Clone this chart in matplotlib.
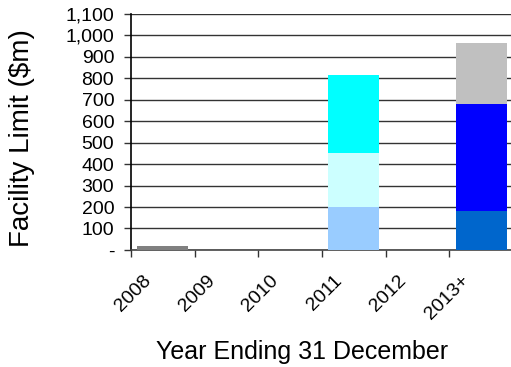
import numpy as np
import matplotlib.pyplot as plt
import matplotlib.transforms as mtransforms
from matplotlib.ticker import FuncFormatter

plt.rcParams['font.family'] = ['Liberation Sans', 'DejaVu Sans']

# data ($m)
years = ['2008', '2009', '2010', '2011', '2012', '2013+']
seg1 = [20, 0, 0, 200, 0, 180]
seg2 = [0, 0, 0, 250, 0, 500]
seg3 = [0, 0, 0, 365, 0, 285]
seg1_colors = ['#808080', '#808080', '#808080', '#99CCFF', '#808080', '#0066CC']
seg2_colors = ['#CCFFFF', '#CCFFFF', '#CCFFFF', '#CCFFFF', '#CCFFFF', '#0000FF']
seg3_colors = ['#00FFFF', '#00FFFF', '#00FFFF', '#00FFFF', '#00FFFF', '#C0C0C0']

fig = plt.figure(figsize=(5.11, 3.67), dpi=100)
ax = fig.add_axes([0.256, 0.319, 0.748, 0.643])

x = np.arange(len(years))
s1 = np.array(seg1)
s2 = np.array(seg2)
s3 = np.array(seg3)
ax.bar(x, s1, width=0.8, color=seg1_colors, zorder=3)
ax.bar(x, s2, width=0.8, bottom=s1, color=seg2_colors, zorder=3)
ax.bar(x, s3, width=0.8, bottom=s1 + s2, color=seg3_colors, zorder=3)

ax.set_xlim(-0.5, 5.5)
ax.set_ylim(0, 1100)
ax.set_yticks(np.arange(0, 1101, 100))
ax.yaxis.set_major_formatter(FuncFormatter(lambda v, p: '-' if v == 0 else f'{int(v):,}'))
ax.grid(axis='y', color='#333333', linewidth=1, zorder=0)

# ticks between categories, labels at centres
ax.set_xticks(np.arange(-0.5, 5.5, 1))
ax.set_xticklabels([])
ax.set_xticks(x, minor=True)
ax.set_xticklabels(years, minor=True, rotation=45, ha='right', va='top', fontsize=14)
ax.tick_params(axis='x', which='minor', length=0, pad=16)
ax.tick_params(axis='x', which='major', length=5, width=1, color='#333333')
ax.tick_params(axis='y', length=5, width=1, labelsize=14, color='#333333', pad=7)
shift = mtransforms.ScaledTranslation(-6 / 72, 0, fig.dpi_scale_trans)
for lab in ax.get_xticklabels(minor=True):
    lab.set_transform(lab.get_transform() + shift)

for s in ['top', 'right']:
    ax.spines[s].set_visible(False)
ax.spines['left'].set_linewidth(1.2)
ax.spines['bottom'].set_linewidth(1.2)
ax.spines['bottom'].set_color('#444444')

ax.set_ylabel('Facility Limit ($m)', fontsize=20)
ax.yaxis.set_label_coords(-0.25, 0.475)
fig.text(0.591, 0.04, 'Year Ending 31 December', fontsize=18, ha='center', va='center')

fig.savefig('out.png', dpi=100)
